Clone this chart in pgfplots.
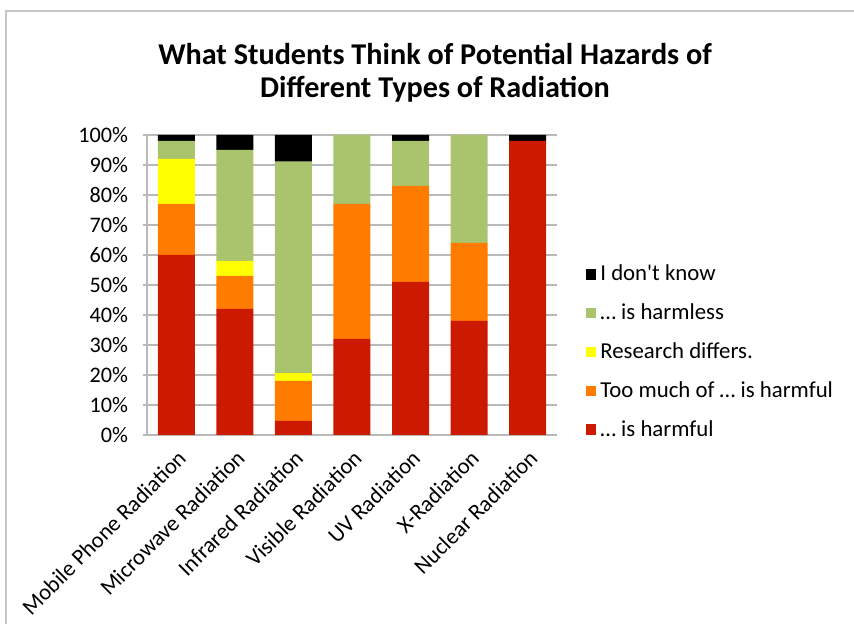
\documentclass[border=0pt]{standalone}
\usepackage{fontspec}
\setmainfont{Carlito}
\usepackage{pgfplots}
\usepackage{pgfplotstable}
\pgfplotsset{compat=1.18}

\definecolor{cHarm}{RGB}{204,26,0}
\definecolor{cToo}{RGB}{255,124,0}
\definecolor{cRes}{RGB}{255,255,0}
\definecolor{cLess}{RGB}{169,196,108}
\definecolor{cGrid}{RGB}{185,185,185}

% shares in percent, one row per type of radiation
\pgfplotstableread{
x harm too res less dk
0 60  17 15  6    2
1 42  11 5   37   5
2 4.7 13.3 2.6 70.5 8.9
3 32  45 0   23   0
4 51  32 0   15   2
5 38  26 0   36   0
6 98  0  0   0    2
}\answers

\begin{document}
\begin{tikzpicture}
\path[use as bounding box] (0,0) rectangle (427pt,312pt);
\draw[gray!45, line width=0.6pt] (3pt,0) -- (3pt,306.5pt) -- (427pt,306.5pt);
\node[align=center, font=\bfseries\fontsize{15.1}{16.6}\selectfont] at (217.5pt,275.5pt)
  {What Students Think of Potential Hazards of\\Different Types of Radiation};
\begin{axis}[
  at={(73.5pt,94.5pt)}, anchor=south west,
  scale only axis, width=205pt, height=150pt,
  ybar stacked, bar width=18.5pt,
  xmin=-0.5, xmax=6.5, ymin=0, ymax=100,
  xtick={0,...,6},
  xticklabels={Mobile Phone Radiation, Microwave Radiation, Infrared Radiation,
    Visible Radiation, UV Radiation, X-Radiation, Nuclear Radiation},
  xticklabel style={rotate=45, anchor=north east, font=\fontsize{11.3}{13}\selectfont},
  ytick={0,10,...,100},
  yticklabel={\pgfmathprintnumber{\tick}\%},
  yticklabel style={font=\fontsize{11.1}{13}\selectfont, xshift=-4pt},
  /pgf/number format/assume math mode=true,
  axis x line*=bottom, axis y line*=left,
  axis line style={cGrid, line width=0.75pt},
  x axis line style={-}, y axis line style={-},
  ymajorgrids, grid style={cGrid, line width=0.75pt},
  xtick style={draw=none},
  ytick style={cGrid, line width=0.75pt},
  tick align=outside, major tick length=2pt,
  reverse legend,
  legend style={at={(1.056,0.595)}, anchor=north west, draw=none,
    font=\fontsize{11.4}{13}\selectfont, row sep=6pt,
    /tikz/every even column/.append style={column sep=0pt}},
  legend cell align=left,
  legend image code/.code={\fill[#1] (0pt,-2.6pt) rectangle (5pt,2.6pt);},
]
\addplot[fill=cHarm, draw=none] table[x=x, y=harm] {\answers};
\addlegendentry{… is harmful}
\addplot[fill=cToo, draw=none] table[x=x, y=too] {\answers};
\addlegendentry{Too much of … is harmful}
\addplot[fill=cRes, draw=none] table[x=x, y=res] {\answers};
\addlegendentry{Research differs.}
\addplot[fill=cLess, draw=none] table[x=x, y=less] {\answers};
\addlegendentry{… is harmless}
\addplot[fill=black, draw=none] table[x=x, y=dk] {\answers};
\addlegendentry{I don\textquotesingle t know}
\end{axis}
\end{tikzpicture}
\end{document}
